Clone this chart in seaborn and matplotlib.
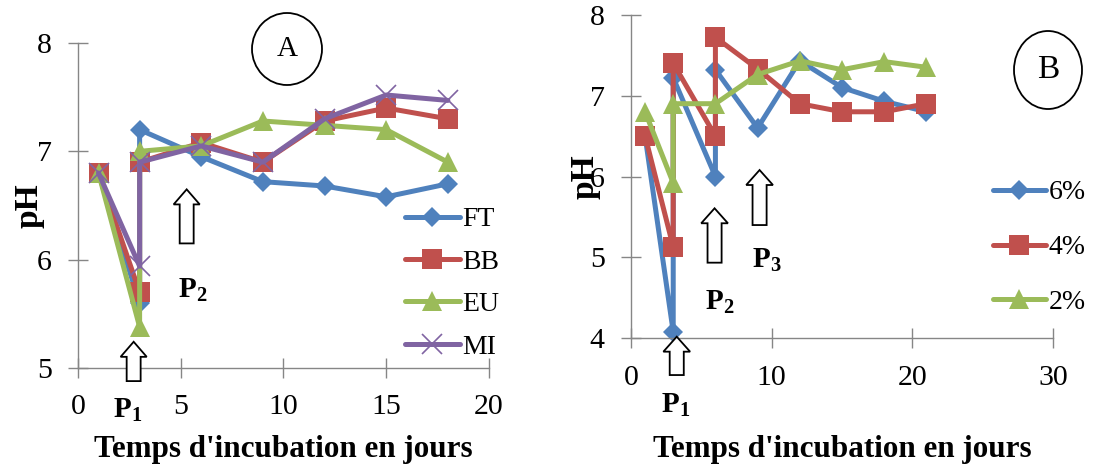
import matplotlib
matplotlib.use("Agg")
from matplotlib import pyplot as plt
from matplotlib.patches import Ellipse, FancyArrow
import seaborn as sns

# panel A data
days_a = [1, 3, 3, 6, 9, 12, 15, 18]
ph_ft = [6.8, 5.6, 7.2, 6.95, 6.72, 6.68, 6.58, 6.7]
ph_bb = [6.8, 5.7, 6.9, 7.08, 6.9, 7.28, 7.4, 7.3]
ph_eu = [6.8, 5.38, 7.0, 7.05, 7.28, 7.24, 7.2, 6.9]
ph_mi = [6.8, 5.94, 6.9, 7.05, 6.9, 7.3, 7.52, 7.47]

# panel B data
days_b = [1, 3, 3, 6, 6, 9, 12, 15, 18, 21]
days_b2 = [1, 3, 3, 6, 9, 12, 15, 18, 21]
ph_6 = [6.5, 4.08, 7.22, 6.0, 7.32, 6.6, 7.43, 7.1, 6.93, 6.8]
ph_4 = [6.5, 5.13, 7.4, 6.5, 7.72, 7.33, 6.9, 6.8, 6.8, 6.9]
ph_2 = [6.8, 5.92, 6.9, 6.9, 7.26, 7.43, 7.32, 7.42, 7.35]

blue, red, green, purple = "#4F81BD", "#C0504D", "#9BBB59", "#8064A2"
grey = "#868686"

sns.set_style("white")
plt.rcParams["font.family"] = ["Liberation Serif", "DejaVu Serif"]
plt.rcParams["text.color"] = "black"
plt.rcParams["axes.labelcolor"] = "black"
plt.rcParams["mathtext.fontset"] = "custom"
plt.rcParams["mathtext.rm"] = "Liberation Serif"
plt.rcParams["mathtext.bf"] = "Liberation Serif:bold"

fig = plt.figure(figsize=(11.09, 4.68), dpi=100)
axA = fig.add_axes([0.0703, 0.2137, 0.3706, 0.6944])
axB = fig.add_axes([0.569, 0.2771, 0.3805, 0.6915])

series_a = [
    ("FT", ph_ft, blue, "D", 10),
    ("BB", ph_bb, red, "s", 15),
    ("EU", ph_eu, green, "^", 15),
    ("MI", ph_mi, purple, "x", 15),
]
for name, vals, col, mk, ms in series_a:
    sns.lineplot(x=days_a, y=vals, ax=axA, color=col, marker=mk, markersize=ms,
                 markeredgecolor=col, markeredgewidth=1.2 if mk == "x" else 0,
                 lw=3.6, estimator=None, sort=False, label=name, clip_on=False)

series_b = [
    ("6%", days_b, ph_6, blue, "D", 10),
    ("4%", days_b, ph_4, red, "s", 15),
    ("2%", days_b2, ph_2, green, "^", 15),
]
for name, xs, vals, col, mk, ms in series_b:
    sns.lineplot(x=xs, y=vals, ax=axB, color=col, marker=mk, markersize=ms,
                 markeredgecolor=col, markeredgewidth=0,
                 lw=3.6, estimator=None, sort=False, label=name, clip_on=False)

for ax in (axA, axB):
    for s in ("top", "right"):
        ax.spines[s].set_visible(False)
    for s in ("left", "bottom"):
        ax.spines[s].set_color(grey)
        ax.spines[s].set_linewidth(1)
    ax.tick_params(bottom=True, left=True, direction="inout", length=14, width=1,
                   color=grey, labelcolor="black", labelsize=21.5, pad=12)
    ax.set_xlabel("Temps d'incubation en jours", fontsize=22.4, fontweight="bold")
    ax.set_ylabel("pH", fontsize=24, fontweight="bold")
    ax.xaxis.label.set_va("center")
    ax.yaxis.label.set_va("center")

axA.set_xlim(0, 20)
axA.set_ylim(5, 8)
axA.set_xticks([0, 5, 10, 15, 20])
axA.set_yticks([5, 6, 7, 8])
axA.xaxis.set_label_coords(0.5, -0.252)
axA.yaxis.set_label_coords(-0.118, 0.5)

axB.set_xlim(0, 30)
axB.set_ylim(4, 8)
axB.set_xticks([0, 10, 20, 30])
axB.set_yticks([4, 5, 6, 7, 8])
axB.xaxis.set_label_coords(0.5, -0.345)
axB.yaxis.set_label_coords(-0.109, 0.5)

axA.legend(loc="upper left", bbox_to_anchor=(0.365, 0.5577), bbox_transform=fig.transFigure,
           frameon=False, fontsize=20, borderpad=0, borderaxespad=0,
           handlelength=1.98, handletextpad=0.1, labelspacing=0.61)
axB.legend(loc="upper left", bbox_to_anchor=(0.8954, 0.6154), bbox_transform=fig.transFigure,
           frameon=False, fontsize=20, borderpad=0, borderaxespad=0,
           handlelength=1.9, handletextpad=0.1, labelspacing=1.06)

# hollow arrows: (x, base, length)
arrows_a = [(2.71, 4.879, 0.363), (5.29, 6.15, 0.499)]
arrows_b = [(3.25, 3.546, 0.474), (5.94, 4.935, 0.672), (9.14, 5.40, 0.68)]
for x, y0, dy in arrows_a:
    axA.add_patch(FancyArrow(x, y0, 0, dy, width=0.68, head_width=1.27, head_length=0.139,
                             length_includes_head=True, fc="white", ec="black", lw=1.3,
                             clip_on=False, zorder=5))
for x, y0, dy in arrows_b:
    axB.add_patch(FancyArrow(x, y0, 0, dy, width=1.0, head_width=1.9, head_length=0.185,
                             length_includes_head=True, fc="white", ec="black", lw=1.3,
                             clip_on=False, zorder=5))

pk = dict(fontsize=21, ha="center", va="center")
axA.text(2.43, 4.61, r"$\mathbf{P}_{\mathbf{1}}$", clip_on=False, **pk)
axA.text(5.6, 5.72, r"$\mathbf{P}_{\mathbf{2}}$", **pk)
axB.text(3.2, 3.175, r"$\mathbf{P}_{\mathbf{1}}$", clip_on=False, **pk)
axB.text(6.33, 4.45, r"$\mathbf{P}_{\mathbf{2}}$", **pk)
axB.text(9.67, 4.97, r"$\mathbf{P}_{\mathbf{3}}$", **pk)

# panel letters in circles
fig.add_artist(Ellipse((287 / 1109, 1 - 49 / 468), 70 / 1109, 72 / 468,
                       transform=fig.transFigure, fill=False, ec="black", lw=1.3))
fig.text(287 / 1109, 1 - 49 / 468, "A", fontsize=21, ha="center", va="center")
fig.add_artist(Ellipse((1048 / 1109, 1 - 70 / 468), 68 / 1109, 78 / 468,
                       transform=fig.transFigure, fill=False, ec="black", lw=1.3))
fig.text(1048 / 1109, 1 - 70 / 468, "B", fontsize=24, ha="center", va="center")

fig.savefig("out.png", dpi=100)
